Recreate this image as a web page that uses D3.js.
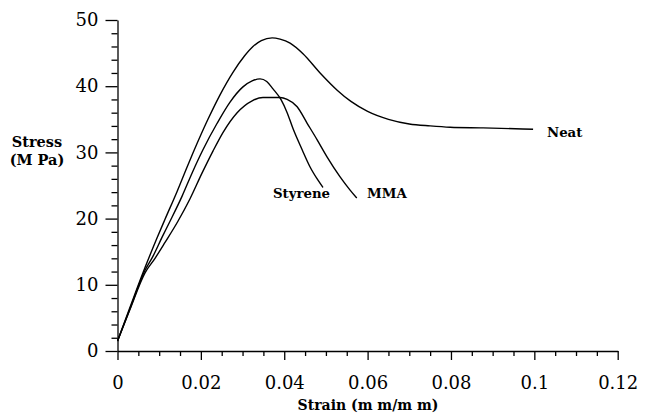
<!DOCTYPE html>
<html>
<head>
<meta charset="utf-8">
<script src="https://cdn.jsdelivr.net/npm/d3@7"></script>
<style>
  html, body { margin: 0; padding: 0; background: #fff; }
  svg { display: block; }
  text { font-family: "DejaVu Serif", serif; fill: #000; }
</style>
</head>
<body>
<svg id="chart" width="646" height="414"></svg>
<script>
// ---- data (strain mm/mm, stress MPa) ----
const neatStrain    = [0, 0.003, 0.0066, 0.0095, 0.0114, 0.0143, 0.0167, 0.0181, 0.0217, 0.0246, 0.0277, 0.0305, 0.0325, 0.0345, 0.0371, 0.039, 0.0414, 0.0445, 0.0486, 0.0527, 0.056, 0.06, 0.065, 0.07, 0.075, 0.0798, 0.0877, 0.0997];
const neatStress    = [1.5, 6.6, 12.6, 17.1, 19.9, 24.1, 27.8, 29.9, 35.0, 38.7, 42.1, 44.6, 46.0, 46.9, 47.3, 47.1, 46.5, 44.9, 42.0, 39.4, 37.7, 36.2, 35.0, 34.3, 34.0, 33.8, 33.7, 33.5];
const styreneStrain = [0, 0.003, 0.0066, 0.0085, 0.0107, 0.0126, 0.0155, 0.0179, 0.0205, 0.0239, 0.027, 0.0301, 0.0323, 0.0342, 0.0358, 0.0373, 0.0392, 0.0407, 0.0421, 0.0443, 0.0462, 0.0481, 0.0493];
const styreneStress = [1.5, 6.4, 12.2, 14.3, 17.2, 19.6, 23.4, 26.9, 30.4, 34.4, 37.6, 39.9, 40.8, 41.1, 40.7, 39.6, 38.0, 36.0, 33.6, 30.4, 27.8, 25.8, 24.7];
const mmaStrain     = [0, 0.003, 0.0066, 0.009, 0.0114, 0.0145, 0.0174, 0.0203, 0.0229, 0.0253, 0.0287, 0.0323, 0.0349, 0.039, 0.0407, 0.0431, 0.0455, 0.0479, 0.0503, 0.0534, 0.0558, 0.0574];
const mmaStress     = [1.5, 6.3, 11.8, 14.0, 16.4, 19.6, 23.0, 26.9, 30.2, 33.0, 36.0, 37.8, 38.3, 38.3, 38.0, 36.9, 34.4, 31.9, 29.3, 26.3, 24.3, 23.1];
const seriesNames   = ["Neat", "Styrene", "MMA"];

const xTickValues = [0, 0.02, 0.04, 0.06, 0.08, 0.1, 0.12];
const xTickLabels = ["0", "0.02", "0.04", "0.06", "0.08", "0.1", "0.12"];
const yTickValues = [0, 10, 20, 30, 40, 50];
const yTickLabels = ["0", "10", "20", "30", "40", "50"];
const xMinorStep = 0.005;
const yMinorStep = 2;

// ---- layout ----
const svg = d3.select("#chart");
const mLeft = 117.5, mRight = 617.7, mTop = 20, mBottom = 351;

const x = d3.scaleLinear().domain([0, 0.12]).range([mLeft, mRight]);
const y = d3.scaleLinear().domain([0, 50]).range([mBottom, mTop]);

const xMinor = d3.range(0, 0.12 + 1e-9, xMinorStep).filter(v => !xTickValues.some(t => Math.abs(t - v) < 1e-9));
const yMinor = d3.range(0, 50 + 1e-9, yMinorStep).filter(v => !yTickValues.some(t => Math.abs(t - v) < 1e-9));

// minor ticks
svg.append("g").attr("transform", `translate(0,${mBottom})`)
  .call(d3.axisBottom(x).tickValues(xMinor).tickSize(5).tickFormat(""))
  .call(g => g.select(".domain").remove());
svg.append("g").attr("transform", `translate(${mLeft},0)`)
  .call(d3.axisLeft(y).tickValues(yMinor).tickSize(6).tickFormat(""))
  .call(g => g.select(".domain").remove());

// major axes
svg.append("g").attr("transform", `translate(0,${mBottom})`)
  .call(d3.axisBottom(x).tickValues(xTickValues).tickSize(9).tickSizeOuter(0)
    .tickPadding(16).tickFormat((d, i) => xTickLabels[i]));
svg.append("g").attr("transform", `translate(${mLeft},0)`)
  .call(d3.axisLeft(y).tickValues(yTickValues).tickSize(12).tickSizeOuter(0)
    .tickPadding(7).tickFormat((d, i) => yTickLabels[i]));

svg.selectAll(".tick line, .domain").attr("stroke", "#000").attr("stroke-width", 1.3);
svg.selectAll(".tick text").style("font-family", "DejaVu Serif, serif").style("font-size", "18px").attr("fill", "#000");

// curves
const line = d3.line().x(d => x(d[0])).y(d => y(d[1])).curve(d3.curveMonotoneX);
const series = [
  d3.zip(neatStrain, neatStress),
  d3.zip(styreneStrain, styreneStress),
  d3.zip(mmaStrain, mmaStress)
];
svg.append("g").selectAll("path").data(series).join("path")
  .attr("d", line).attr("fill", "none").attr("stroke", "#000").attr("stroke-width", 1.4);

// series labels
const lbl = svg.append("g").style("font-size", "13.3px").style("font-weight", "bold");
lbl.append("text").attr("x", 547).attr("y", 137).text(seriesNames[0]);
lbl.append("text").attr("x", 273).attr("y", 198).text(seriesNames[1]);
lbl.append("text").attr("x", 367).attr("y", 198).text(seriesNames[2]);

// axis titles
const tt = svg.append("g").style("font-size", "14.5px").style("font-weight", "bold");
tt.append("text").attr("x", 37).attr("y", 147).attr("text-anchor", "middle").text("Stress");
tt.append("text").attr("x", 37).attr("y", 165).attr("text-anchor", "middle").text("(M Pa)");
tt.append("text").attr("x", 368).attr("y", 410).attr("text-anchor", "middle").style("font-size", "14px").text("Strain (m m/m m)");
</script>
</body>
</html>
